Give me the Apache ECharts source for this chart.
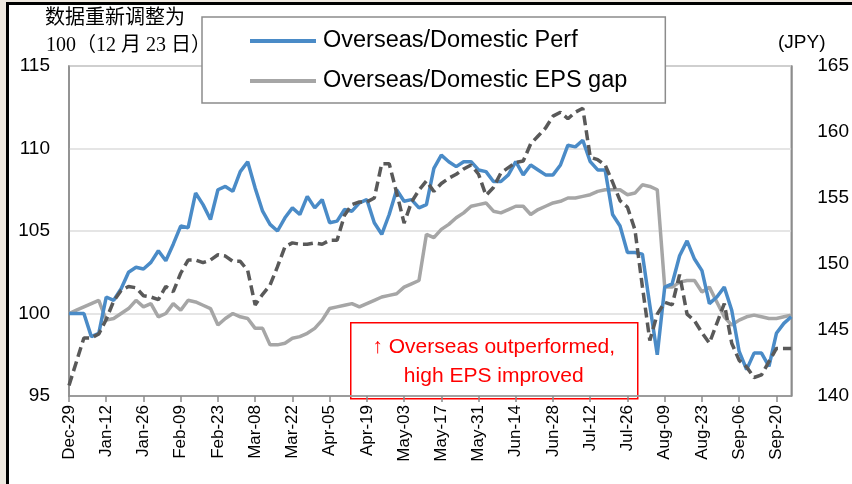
<!DOCTYPE html>
<html>
<head>
<meta charset="utf-8">
<script src="https://cdn.jsdelivr.net/npm/echarts@6/dist/echarts.min.js"></script>
<style>
  html, body { margin: 0; padding: 0; overflow: hidden; background: #efe9e0; }
  #frame { position: absolute; left: 6px; top: 2px; width: 900px; height: 600px; border: 3px solid #000; background: #fff; }
  #chart { position: absolute; left: 0; top: 0; width: 852px; height: 484px; }
</style>
</head>
<body>
<div id="frame"></div>
<div id="chart"></div>
<script>
// every second weekday starting Dec-29, labels every 5th point (two weeks)
const startDate = [2023, 11, 29]
const pointCount = 98

const perf = [
  100.0, 100.0, 100.0, 98.6, 98.8, 101.0, 100.8, 101.5, 102.5, 102.8,
  102.7, 103.1, 103.8, 103.2, 104.2, 105.3, 105.2, 107.3, 106.6, 105.7,
  107.5, 107.7, 107.4, 108.6, 109.2, 107.6, 106.2, 105.4, 105.0, 105.8,
  106.4, 106.0, 107.1, 106.4, 106.9, 105.5, 105.6, 106.3, 106.2, 106.7,
  106.9, 105.5, 104.8, 106.0, 107.5, 106.8, 106.9, 106.4, 106.6, 108.8,
  109.6, 109.2, 108.9, 109.2, 109.2, 108.7, 108.6, 108.0, 108.0, 108.4,
  109.2, 108.4, 109.0, 108.7, 108.4, 108.4, 109.0, 110.2, 110.1, 110.5,
  109.2, 108.7, 108.7, 106.0, 105.3, 103.7, 103.7, 103.6, 100.5, 97.5,
  101.6, 101.8, 103.5, 104.4, 103.3, 102.6, 100.6, 101.0, 101.6, 100.2,
  97.7, 96.6, 97.6, 97.6, 96.8, 98.8, 99.4, 99.8
]

const epsGap = [
  100.0, 100.2, 100.4, 100.6, 100.8, 99.6, 99.7, 100.0, 100.3, 100.8,
  100.4, 100.6, 99.8, 100.0, 100.6, 100.2, 100.8, 100.7, 100.5, 100.3,
  99.3, 99.7, 100.0, 99.8, 99.7, 99.1, 99.1, 98.1, 98.1, 98.2,
  98.5, 98.6, 98.8, 99.1, 99.6, 100.3, 100.4, 100.5, 100.6, 100.4,
  100.6, 100.8, 101.0, 101.1, 101.2, 101.6, 101.8, 102.0, 104.8, 104.6,
  105.1, 105.4, 105.8, 106.1, 106.5, 106.6, 106.7, 106.2, 106.1, 106.3,
  106.5, 106.5, 106.0, 106.3, 106.5, 106.7, 106.8, 107.0, 107.0, 107.1,
  107.2, 107.4, 107.5, 107.5, 107.5, 107.2, 107.3, 107.8, 107.7, 107.5,
  101.6, 101.6, 101.9, 102.0, 102.0, 101.3, 101.6, 100.7, 99.8, 99.3,
  99.6, 99.8, 99.9, 99.8, 99.7, 99.7, 99.8, 99.9
]

const usdJpy = [
  140.8, 142.6, 144.4, 144.4, 144.7, 145.8, 147.2, 148.0, 148.3, 148.2,
  147.6, 147.5, 147.3, 148.3, 147.9, 149.3, 150.3, 150.3, 150.1, 150.3,
  150.7, 150.6, 150.2, 150.2, 149.5, 146.9, 147.7, 148.4, 149.8, 151.3,
  151.6, 151.5, 151.5, 151.6, 151.5, 151.8, 151.8, 153.7, 154.5, 154.7,
  154.7, 155.0, 157.6, 157.6, 155.4, 153.1, 154.7, 155.6, 156.3, 155.5,
  156.1, 156.5, 156.8, 157.2, 157.5, 156.8, 155.2, 155.8, 156.9, 157.3,
  157.7, 157.8, 159.1, 159.7, 160.3, 161.2, 161.5, 161.0, 161.5, 161.8,
  158.1, 157.9, 157.5, 156.2, 154.8, 154.3, 152.6, 148.3, 144.2, 146.2,
  147.1, 146.9, 149.2, 146.2, 145.7, 144.8, 144.0, 145.5, 147.0, 144.0,
  142.7, 142.2, 141.4, 141.6, 142.6, 143.6, 143.6, 143.6
]

const monthNames = ['Jan', 'Feb', 'Mar', 'Apr', 'May', 'Jun', 'Jul', 'Aug', 'Sep', 'Oct', 'Nov', 'Dec']

function makeDates () {
  const out = []
  const d = new Date(Date.UTC(startDate[0], startDate[1], startDate[2]))
  let n = 0
  while (out.length < pointCount) {
    const wd = d.getUTCDay()
    if (wd !== 0 && wd !== 6) {
      if (n % 2 === 0) {
        const day = String(d.getUTCDate()).padStart(2, '0')
        out.push(monthNames[d.getUTCMonth()] + '-' + day)
      }
      n++
    }
    d.setUTCDate(d.getUTCDate() + 1)
  }
  return out
}
const dates = makeDates()

const chart = echarts.init(document.getElementById('chart'))
const axisGray = '#8c8c8c'
const font = "'Liberation Sans', Arial, sans-serif"

chart.setOption({
  animation: false,
  grid: {
    left: 69,
    right: 52,
    top: 66,
    bottom: 88,
    show: true,
    borderColor: axisGray,
    borderWidth: 1.5
  },
  legend: {
    data: ['Overseas/Domestic Perf', 'Overseas/Domestic EPS gap'],
    orient: 'vertical',
    left: 202,
    top: 17,
    padding: [10, 38, 8, 48],
    itemGap: 12,
    itemWidth: 66,
    itemHeight: 4,
    icon: 'rect',
    backgroundColor: '#fff',
    borderColor: axisGray,
    borderWidth: 1.5,
    borderRadius: 0,
    textStyle: { fontSize: 23.5, lineHeight: 28, color: '#000', fontFamily: font, padding: [0, 0, 0, 2] }
  },
  xAxis: {
    type: 'category',
    data: dates,
    boundaryGap: false,
    axisLine: { lineStyle: { color: axisGray, width: 1.5 } },
    axisTick: { interval: 4, length: 6, lineStyle: { color: axisGray, width: 1.5 } },
    axisLabel: { interval: 4, rotate: 90, fontSize: 17, color: '#000', margin: 9, fontFamily: font }
  },
  yAxis: [
    {
      type: 'value',
      min: 95,
      max: 115,
      interval: 5,
      axisLine: { show: true, lineStyle: { color: axisGray, width: 1.5 } },
      axisTick: { show: false },
      axisLabel: { fontSize: 19, color: '#000', margin: 19, fontFamily: font },
      splitLine: { lineStyle: { color: '#dcdcdc', width: 1.5 } }
    },
    {
      type: 'value',
      min: 140,
      max: 165,
      interval: 5,
      position: 'right',
      axisLine: { show: true, lineStyle: { color: axisGray, width: 1.5 } },
      axisTick: { show: false },
      axisLabel: { fontSize: 19, color: '#000', margin: 26, fontFamily: font },
      splitLine: { show: false }
    }
  ],
  series: [
    {
      name: 'Overseas/Domestic EPS gap',
      type: 'line',
      data: epsGap,
      showSymbol: false,
      symbol: 'none',
      color: '#a6a6a6',
      lineStyle: { width: 3.5, color: '#a6a6a6' }
    },
    {
      name: 'Overseas/Domestic Perf',
      type: 'line',
      data: perf,
      showSymbol: false,
      symbol: 'none',
      color: '#4a8bc7',
      lineStyle: { width: 3.5, color: '#4a8bc7' }
    },
    {
      name: 'USD/JPY',
      type: 'line',
      yAxisIndex: 1,
      data: usdJpy,
      showSymbol: false,
      symbol: 'none',
      color: '#595959',
      lineStyle: { width: 3.5, color: '#595959', type: [10, 5] }
    }
  ],
  graphic: [
    {
      type: 'text',
      left: 45,
      top: 9,
      style: { text: '数据重新调整为', fontSize: 20, fill: '#000', fontFamily: "'Liberation Serif', 'Noto Sans CJK SC', serif" }
    },
    {
      type: 'text',
      left: 46,
      top: 36,
      style: { text: '100（12 月 23 日）', fontSize: 20, fill: '#000', fontFamily: "'Liberation Serif', 'Noto Sans CJK SC', serif" }
    },
    {
      type: 'text',
      left: 778,
      top: 33,
      style: { text: '(JPY)', fontSize: 19, fill: '#000', fontFamily: font }
    },
    {
      type: 'group',
      left: 350,
      top: 322,
      z: 100,
      children: [
        {
          type: 'rect',
          shape: { x: 0, y: 0, width: 287, height: 76 },
          style: { fill: '#fff', stroke: '#ff0000', lineWidth: 1.5 }
        },
        {
          type: 'text',
          x: 143,
          y: 39,
          style: {
            text: '↑ Overseas outperformed,\nhigh EPS improved',
            fontSize: 21,
            lineHeight: 29,
            fill: '#ff0000',
            align: 'center',
            verticalAlign: 'middle',
            fontFamily: font
          }
        }
      ]
    }
  ]
})
</script>
</body>
</html>
